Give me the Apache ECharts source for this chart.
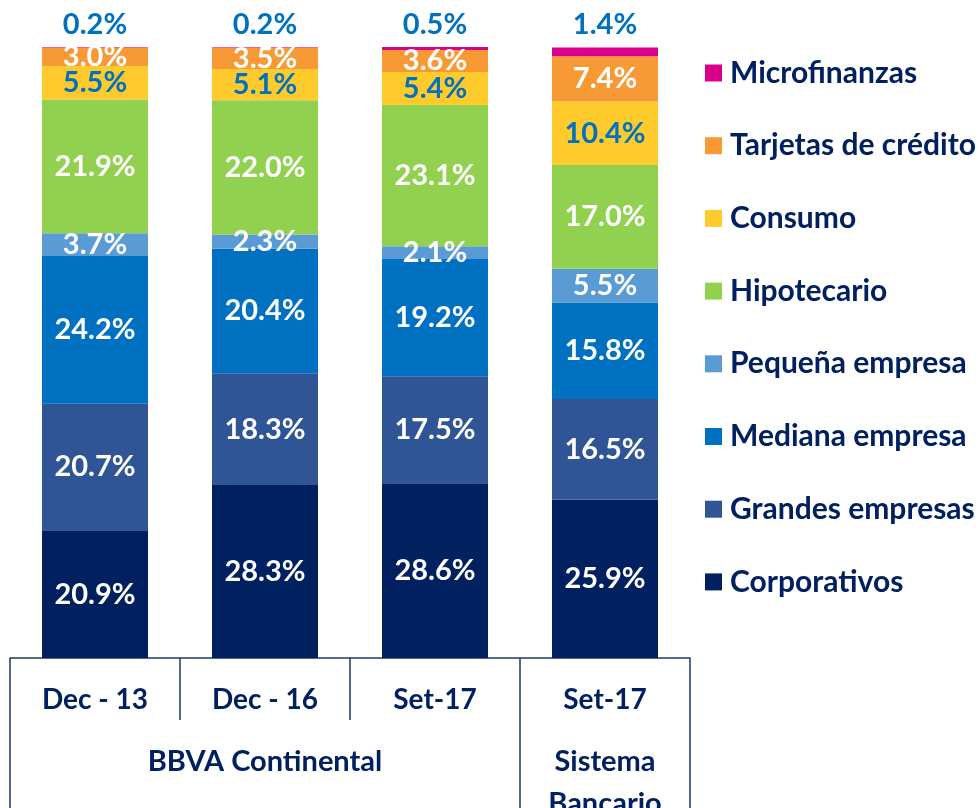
<!DOCTYPE html>
<html>
<head>
<meta charset="utf-8">
<script src="https://cdn.jsdelivr.net/npm/echarts@6/dist/echarts.min.js"></script>
<style>
  html, body { margin: 0; padding: 0; background: #fff; }
  #chart { width: 978px; height: 808px; }
</style>
</head>
<body>
<div id="chart"></div>
<script>
// categorias y grupos del eje x
const categories = ['Dec - 13', 'Dec - 16', 'Set-17', 'Set-17'];
const groups = ['', 'BBVA Continental', '', 'Sistema\nBancario'];

// participacion por segmento (%)
const corporativos = [20.9, 28.3, 28.6, 25.9];
const grandes = [20.7, 18.3, 17.5, 16.5];
const mediana = [24.2, 20.4, 19.2, 15.8];
const pequena = [3.7, 2.3, 2.1, 5.5];
const hipotecario = [21.9, 22.0, 23.1, 17.0];
const consumo = [5.5, 5.1, 5.4, 10.4];
const tarjetas = [3.0, 3.5, 3.6, 7.4];
const microfinanzas = [0.2, 0.2, 0.5, 1.4];

const FONT = 'Lato, "Open Sans", sans-serif';
const NAVY = '#002060';
const BLUE = '#0070C0';
const LINE = '#1F3864';

function makeSeries(name, data, color, labelColor, position) {
  return {
    name: name,
    type: 'bar',
    stack: 'total',
    barWidth: 106,
    data: data,
    itemStyle: { color: color },
    label: {
      show: true,
      position: position || 'inside',
      distance: 8,
      color: labelColor,
      fontFamily: FONT,
      fontWeight: 'bold',
      fontSize: 29,
      formatter: p => p.value.toFixed(1) + '%'
    }
  };
}

const chart = echarts.init(document.getElementById('chart'));
chart.setOption({
  animation: false,
  grid: { left: 10, right: 288, top: 47, bottom: 150, outerBoundsMode: 'none', containLabel: false },
  legend: {
    orient: 'vertical',
    left: 700,
    top: 53,
    icon: 'rect',
    itemWidth: 17,
    itemHeight: 17,
    itemGap: 42.7,
    selectedMode: false,
    data: ['Microfinanzas', 'Tarjetas de crédito', 'Consumo', 'Hipotecario',
           'Pequeña empresa', 'Mediana empresa', 'Grandes empresas', 'Corporativos'],
    textStyle: {
      color: NAVY,
      fontFamily: FONT,
      fontWeight: 'bold',
      fontSize: 30,
      lineHeight: 30,
      padding: [0, 0, 0, 3]
    }
  },
  xAxis: [
    {
      type: 'category',
      data: categories,
      axisLine: { show: true, lineStyle: { color: LINE, width: 1.5 } },
      axisTick: { show: true, interval: 0, length: 62, lineStyle: { color: LINE, width: 1.5 } },
      axisLabel: {
        interval: 0,
        margin: 27,
        color: NAVY,
        fontFamily: FONT,
        fontWeight: 'bold',
        fontSize: 28,
        lineHeight: 30
      }
    },
    {
      type: 'category',
      position: 'bottom',
      data: groups,
      axisLine: { show: false },
      axisTick: {
        show: true,
        length: 160,
        interval: (idx) => idx === 0 || idx === 3,
        lineStyle: { color: LINE, width: 1.5 }
      },
      axisLabel: {
        interval: 0,
        margin: 83,
        color: NAVY,
        fontFamily: FONT,
        fontWeight: 'bold',
        fontSize: 29,
        lineHeight: 42
      }
    }
  ],
  yAxis: { type: 'value', min: 0, max: 100, show: false },
  series: [
    makeSeries('Corporativos', corporativos, '#002060', '#fff'),
    makeSeries('Grandes empresas', grandes, '#2F5597', '#fff'),
    makeSeries('Mediana empresa', mediana, '#0070C0', '#fff'),
    makeSeries('Pequeña empresa', pequena, '#5B9BD5', '#fff'),
    makeSeries('Hipotecario', hipotecario, '#92D050', '#fff'),
    makeSeries('Consumo', consumo, '#FFCA2C', BLUE),
    makeSeries('Tarjetas de crédito', tarjetas, '#F79A35', '#fff'),
    makeSeries('Microfinanzas', microfinanzas, '#D9008D', BLUE, 'top')
  ]
});
</script>
</body>
</html>
